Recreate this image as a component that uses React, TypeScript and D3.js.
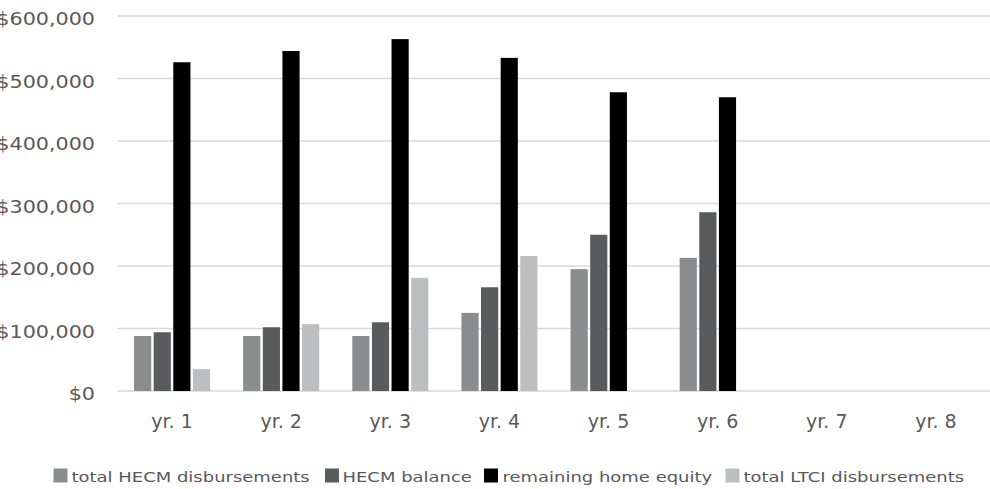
import React from "react";
import * as d3 from "d3";

// Category labels along the x axis
const years = ["yr. 1", "yr. 2", "yr. 3", "yr. 4", "yr. 5", "yr. 6", "yr. 7", "yr. 8"];

// Series values in dollars (null = no bar)
const totalHecmDisbursements = [88000, 88000, 88000, 125000, 195000, 213000, null, null];
const hecmBalance = [94000, 102000, 110000, 166000, 250000, 286000, null, null];
const remainingHomeEquity = [526000, 544000, 563000, 533000, 478000, 470000, null, null];
const totalLtciDisbursements = [35000, 107000, 181000, 216000, null, null, null, null];

const seriesNames = [
  "total HECM disbursements",
  "HECM balance",
  "remaining home equity",
  "total LTCI disbursements",
];
const seriesValues = [totalHecmDisbursements, hecmBalance, remainingHomeEquity, totalLtciDisbursements];
const seriesColors = ["#8b8c8e", "#5a5b5d", "#000000", "#bdbec0"];

const yTicks = [0, 100000, 200000, 300000, 400000, 500000, 600000];

const W = 990;
const H = 489;
const plot = { left: 117.5, right: 990.5, top: 16, bottom: 391 };
const textColor = "#595959";
const font = "'DejaVu Sans', sans-serif";

export default function App() {
  const x0 = d3.scaleBand<string>().domain(years).range([plot.left, plot.right]).padding(0);
  const groupW = 76;
  const x1 = d3
    .scaleBand<string>()
    .domain(seriesNames)
    .range([-groupW / 2, groupW / 2])
    .paddingInner(0.125)
    .paddingOuter(0);
  const y = d3.scaleLinear().domain([0, 600000]).range([plot.bottom, plot.top]);
  const fmt = (v: number) => "$" + d3.format(",")(v);

  // legend layout: square x, text x
  const legendItems = [
    { sq: 53.5, tx: 71.5 },
    { sq: 325, tx: 342.5 },
    { sq: 484, tx: 502.5 },
    { sq: 725.5, tx: 743.5 },
  ];

  return (
    <svg
      width={W}
      height={H}
      style={{ position: "absolute", left: 0, top: 0, background: "#fff" }}
      fontFamily={font}
    >
      {/* gridlines */}
      {yTicks.map((t) => (
        <line
          key={"g" + t}
          x1={plot.left}
          x2={plot.right}
          y1={y(t)}
          y2={y(t)}
          stroke="#d9d9d9"
          strokeWidth={1.5}
        />
      ))}
      {/* y-axis labels */}
      {yTicks.map((t) => (
        <text
          key={"yl" + t}
          transform={`translate(95,${y(t) + 9}) scale(1.15,1)`}
          textAnchor="end"
          fontSize={18}
          fill={textColor}
        >
          {fmt(t)}
        </text>
      ))}
      {/* bars */}
      {years.map((yr, i) => (
        <g key={yr} transform={`translate(${x0(yr)! + x0.bandwidth() / 2},0)`}>
          {seriesNames.map((s, k) => {
            const v = seriesValues[k][i];
            if (v == null) return null;
            return (
              <rect
                key={s}
                x={x1(s)!}
                y={y(v)}
                width={x1.bandwidth()}
                height={y(0) - y(v)}
                fill={seriesColors[k]}
              />
            );
          })}
        </g>
      ))}
      {/* x-axis labels */}
      {years.map((yr) => (
        <text
          key={"xl" + yr}
          x={x0(yr)! + x0.bandwidth() / 2}
          y={428}
          textAnchor="middle"
          fontSize={19}
          fill={textColor}
        >
          {yr}
        </text>
      ))}
      {/* legend */}
      {seriesNames.map((s, k) => (
        <g key={"lg" + s}>
          <rect x={legendItems[k].sq} y={468.5} width={14} height={14} fill={seriesColors[k]} />
          <text
            transform={`translate(${legendItems[k].tx},482) scale(1.24,1)`}
            fontSize={14.5}
            fill={textColor}
          >
            {s}
          </text>
        </g>
      ))}
    </svg>
  );
}
